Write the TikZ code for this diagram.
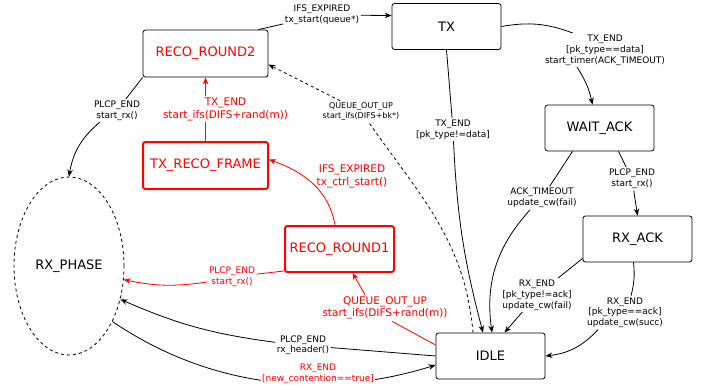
\documentclass[tikz,border=0pt]{standalone}
\usepackage{fontspec}
\setmainfont{DejaVu Sans}
\usetikzlibrary{shapes.geometric,arrows.meta}
\begin{document}
\begin{tikzpicture}[x=1pt,y=1pt,line width=0.8pt,>={Stealth[length=7pt,width=5.5pt]},
  st/.style={draw,rounded corners=2.5pt,minimum width=109pt,minimum height=46pt,font=\fontsize{13}{15}\selectfont},
  wide/.style={minimum width=125pt,minimum height=47pt},
  hot/.style={draw=red,text=red,line width=2pt},
  lbl/.style={inner sep=1.5pt,align=center,font=\fontsize{9}{10.8}\selectfont},
  tiny/.style={lbl,font=\fontsize{8}{9.4}\selectfont},
  rlbl/.style={lbl,text=red,font=\fontsize{10.5}{12.6}\selectfont}]
\useasboundingbox (0,0) rectangle (709,389);
% states
\node[st,wide,text=red] (rr2) at (205.5,335.5) {RECO\_ROUND2};
\node[st] (tx) at (446.5,362.5) {TX};
\node[st] (wack) at (599.5,261) {WAIT\_ACK};
\node[st] (rxack) at (637.5,150) {RX\_ACK};
\node[st] (idle) at (490.5,33) {IDLE};
\node[st,wide,hot] (txrf) at (205.5,223.5) {TX\_RECO\_FRAME};
\node[st,hot] (rr1) at (339.5,140) {RECO\_ROUND1};
\node[draw,dashed,ellipse,minimum width=110pt,minimum height=178pt,font=\fontsize{13}{15}\selectfont] (rxph) at (69,123) {RX\_PHASE};
% labels
\node[lbl] (l1) at (322,374) {IFS\_EXPIRED\\tx\_start(queue*)};
\node[lbl] (l2) at (605,339) {TX\_END\\{}[pk\_type==data]\\start\_timer(ACK\_TIMEOUT)};
\node[lbl] (l3) at (453,259.5) {TX\_END\\{}[pk\_type!=data]};
\node[lbl] (l4) at (542,191) {ACK\_TIMEOUT\\update\_cw(fail)};
\node[lbl] (l5) at (632,210) {PLCP\_END\\start\_rx()};
\node[lbl] (l6) at (537,94) {RX\_END\\{}[pk\_type!=ack]\\update\_cw(fail)};
\node[lbl] (l7) at (625,76.3) {RX\_END\\{}[pk\_type==ack]\\update\_cw(succ)};
\node[tiny] (l8) at (361,277.7) {QUEUE\_OUT\_UP\\start\_ifs(DIFS+bk*)};
\node[rlbl] (l9) at (385,81) {QUEUE\_OUT\_UP\\start\_ifs(DIFS+rand(m))};
\node[lbl] (l10) at (303,43.7) {PLCP\_END\\rx\_header()};
\node[lbl,text=red] (l12) at (232,112) {PLCP\_END\\start\_rx()};
\node[rlbl] (l13) at (352,212.7) {IFS\_EXPIRED\\tx\_ctrl\_start()};
\node[lbl] (l15) at (117,278.5) {PLCP\_END\\start\_rx()};
% RECO_ROUND2 -> TX
\draw ([xshift=-10pt]rr2.north east) -- (l1);
\draw[->] (l1) -- ([yshift=11pt]tx.west);
% TX -> WAIT_ACK, IDLE
\draw (tx.east) to[bend left=15] (l2);
\draw[->] ([xshift=-28pt]l2.south) to[bend left=10] ([xshift=-7pt]wack.north);
\draw (tx.south) -- (l3);
\draw[->] (l3) to[bend right=6] ([xshift=-7.5pt]idle.north);
% WAIT_ACK -> IDLE, RX_ACK
\draw ([xshift=-27pt]wack.south) -- (l4);
\draw[->] (l4) to[bend right=25] ([xshift=1.5pt]idle.north);
\draw ([xshift=19pt]wack.south) -- (l5);
\draw[->] (l5) -- (rxack.north);
% RX_ACK -> IDLE
\draw ([yshift=4pt]rxack.south west) -- (l6);
\draw[->] (l6) -- ([xshift=14pt]idle.north);
\draw ([xshift=-4pt]rxack.south) to[bend left=10] (l7);
\draw[->] ([xshift=-27pt]l7.south) to[bend left=20] (idle.east);
% IDLE -> RECO_ROUND2
\draw[dashed] ([xshift=-17.5pt]idle.north) to[out=95,in=-55] (l8);
\draw[dashed,->] (l8) -- ([yshift=-11pt]rr2.east);
% IDLE -> RECO_ROUND1
\draw[red] ([yshift=11pt]idle.west) -- ([xshift=7pt]l9.south);
\draw[red,->] ([xshift=-20pt]l9.north) -- ([xshift=13pt]rr1.south);
% IDLE <-> RX_PHASE
\draw (idle.west) -- (l10);
\draw[->] (l10) to[bend left=8] (rxph.-33);
\draw[->] (rxph.-52) .. controls (215,-2) and (330,-9) .. ([yshift=-9pt]idle.west);
\node[lbl,text=red,fill=white] (l11) at (318,15.3) {RX\_END\\{}[new\_contention==true]};
% RECO_ROUND1 -> RX_PHASE, TX_RECO_FRAME
\draw[red] ([yshift=2pt]rr1.south west) -- (l12);
\draw[red,->] (l12) to[bend left=10] (rxph.-14);
\draw[red,->] ([xshift=-4.5pt]rr1.north) to[out=100,in=-20] ([yshift=6pt]txrf.east);
% TX_RECO_FRAME -> RECO_ROUND2
\draw[red,->] (txrf) -- node[rlbl,fill=white,xshift=20pt] (l14) {TX\_END\\start\_ifs(DIFS+rand(m))} (rr2);
% RECO_ROUND2 -> RX_PHASE
\draw (rr2.south west) -- (l15);
\draw[->] (l15) to[bend right=20] (rxph.north);
\end{tikzpicture}
\end{document}
